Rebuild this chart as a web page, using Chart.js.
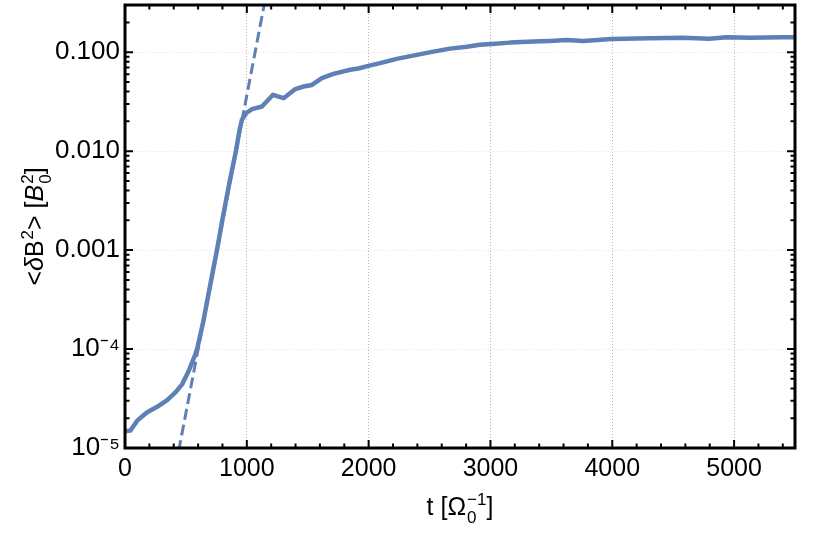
<!DOCTYPE html>
<html>
<head>
<meta charset="utf-8">
<style>
  html, body { margin: 0; padding: 0; background: #fff; }
  #wrap { width: 830px; height: 559px; }
</style>
<script src="https://cdn.jsdelivr.net/npm/chart.js@4/dist/chart.umd.min.js"></script>
</head>
<body>
<div id="wrap"><canvas id="chart" width="830" height="559"></canvas></div>
<script>
const FONT = "'Liberation Sans', Arial, sans-serif";
const BLUE = "#5e81b5";

// <dB^2> time series
const times = [0, 45, 100, 182, 264, 346, 414, 469, 523, 578, 592, 641, 693, 756, 805,
  857, 911, 941, 960, 996, 1043, 1124, 1215, 1302, 1398, 1466, 1534, 1616, 1711, 1848,
  1916, 1998, 2094, 2231, 2395, 2531, 2668, 2805, 2914, 3010, 3160, 3351, 3488, 3625,
  3760, 3993, 4307, 4580, 4799, 4936, 5127, 5400, 5500];
const energy = [1.48e-5, 1.5e-5, 1.89e-5, 2.3e-5, 2.61e-5, 3.05e-5, 3.65e-5, 4.4e-5,
  6.0e-5, 8.9e-5, 1.0e-4, 1.85e-4, 4.02e-4, 1.02e-3, 2.2e-3, 4.78e-3, 0.0101, 0.0165,
  0.0208, 0.0243, 0.0266, 0.0283, 0.0371, 0.0343, 0.0424, 0.045, 0.0467, 0.0547, 0.0604,
  0.0664, 0.0684, 0.0728, 0.0775, 0.0856, 0.094, 0.1014, 0.1087, 0.1138, 0.119, 0.121,
  0.125, 0.128, 0.130, 0.1328, 0.130, 0.136, 0.1385, 0.1403, 0.137, 0.1416, 0.140,
  0.1416, 0.1416];

// exponential growth fit (straight on the log axis)
const fitTimes = [440, 1150];
const fitEnergy = [9.3e-6, 0.336];

const xMajor = [0, 1000, 2000, 3000, 4000, 5000];
const yMajor = [1e-5, 1e-4, 1e-3, 1e-2, 1e-1];
const yLabels = ["10⁻⁵", "10⁻⁴", "0.001", "0.010", "0.100"];

const isMajorY = (v) => yMajor.some((m) => Math.abs(v - m) / m < 1e-6);

// text with stacked super/subscripts, centred on (x, y) baseline
function drawRich(ctx, runs, x, y, size, angle) {
  const small = Math.round(size * 0.68);
  const font = (s, it) => `${it ? "italic " : ""}${s}px ${FONT}`;
  let total = 0;
  const widths = runs.map((r) => {
    ctx.font = font(size, r.it);
    let w = r.t ? ctx.measureText(r.t).width : 0;
    ctx.font = font(small, false);
    const sw = Math.max(r.sup ? ctx.measureText(r.sup).width : 0,
                        r.sub ? ctx.measureText(r.sub).width : 0);
    total += w + sw + (sw ? 1 : 0);
    return [w, sw];
  });
  ctx.save();
  ctx.translate(x, y);
  ctx.rotate(angle);
  ctx.fillStyle = "#000";
  ctx.textBaseline = "alphabetic";
  ctx.textAlign = "left";
  let cx = -total / 2;
  runs.forEach((r, i) => {
    const [w, sw] = widths[i];
    if (r.t) {
      ctx.font = font(size, r.it);
      ctx.fillText(r.t, cx, 0);
    }
    cx += w;
    ctx.font = font(small, false);
    if (r.sup) ctx.fillText(r.sup, cx + 1, -size * 0.42);
    if (r.sub) ctx.fillText(r.sub, cx + 1, size * 0.3);
    cx += sw + (sw ? 1 : 0);
  });
  ctx.restore();
}

const framePlugin = {
  id: "frame",
  afterDraw(chart) {
    const { ctx, chartArea: a, scales } = chart;
    ctx.save();
    ctx.strokeStyle = "#000";
    ctx.lineWidth = 2;
    ctx.beginPath();
    scales.x.ticks.forEach((t) => {
      const px = scales.x.getPixelForValue(t.value);
      const len = t.value % 1000 === 0 ? 8 : 4.5;
      ctx.moveTo(px, a.bottom); ctx.lineTo(px, a.bottom - len);
      ctx.moveTo(px, a.top); ctx.lineTo(px, a.top + len);
    });
    scales.y.ticks.forEach((t) => {
      const py = scales.y.getPixelForValue(t.value);
      const len = isMajorY(t.value) ? 8 : 4.5;
      ctx.moveTo(a.left, py); ctx.lineTo(a.left + len, py);
      ctx.moveTo(a.right, py); ctx.lineTo(a.right - len, py);
    });
    ctx.stroke();
    ctx.lineWidth = 3;
    ctx.strokeRect(a.left, a.top, a.right - a.left, a.bottom - a.top);
    ctx.restore();

    drawRich(ctx, [
      { t: "t [Ω", sub: "0", sup: "−1" },
      { t: "]" },
    ], (a.left + a.right) / 2, a.bottom + 67, 25, 0);

    drawRich(ctx, [
      { t: "<" },
      { t: "δ", it: true },
      { t: "B", sup: "2" },
      { t: "> [" },
      { t: "B", it: true, sub: "0", sup: "2" },
      { t: "]" },
    ], 43, (a.top + a.bottom) / 2, 25, -Math.PI / 2);
  },
};

new Chart(document.getElementById("chart"), {
  type: "line",
  data: {
    datasets: [
      {
        label: "fit",
        data: fitTimes.map((t, i) => ({ x: t, y: fitEnergy[i] })),
        borderColor: BLUE,
        borderWidth: 3,
        borderDash: [11, 5],
        pointRadius: 0,
        tension: 0,
      },
      {
        label: "<dB2>",
        data: times.map((t, i) => ({ x: t, y: energy[i] })),
        borderColor: BLUE,
        borderWidth: 4.5,
        borderJoinStyle: "round",
        pointRadius: 0,
        tension: 0,
      },
    ],
  },
  options: {
    responsive: false,
    animation: false,
    devicePixelRatio: 1,
    layout: { padding: { left: 0, right: 35, top: 5, bottom: 0 } },
    plugins: { legend: { display: false }, tooltip: { enabled: false } },
    scales: {
      x: {
        type: "linear",
        min: 0,
        max: 5500,
        afterBuildTicks(scale) {
          const ticks = [];
          for (let v = 0; v <= 5400; v += 200) ticks.push({ value: v });
          scale.ticks = ticks;
        },
        afterFit(scale) {
          scale.height = 111;
          scale.paddingLeft = 0;
          scale.paddingRight = 0;
        },
        ticks: {
          autoSkip: false,
          maxRotation: 0,
          padding: 6,
          color: "#000",
          font: { family: FONT, size: 25 },
          callback: (v) => (xMajor.includes(v) ? String(v) : ""),
        },
        grid: {
          drawTicks: false,
          lineWidth: 1,
          color: (c) => (c.tick && c.tick.value % 1000 === 0 && c.tick.value > 0
            ? "#b4b4b4" : "rgba(0,0,0,0)"),
        },
        border: { display: false, dash: [1, 2] },
      },
      y: {
        type: "logarithmic",
        min: 1e-5,
        max: 0.3,
        afterBuildTicks(scale) {
          const ticks = [];
          for (let d = -5; d <= -1; d++) {
            for (let k = 1; k <= 9; k++) {
              const v = k * Math.pow(10, d);
              if (v <= 0.3 + 1e-9) ticks.push({ value: v });
            }
          }
          scale.ticks = ticks;
        },
        afterFit(scale) {
          scale.width = 125;
          scale.paddingTop = 0;
          scale.paddingBottom = 0;
        },
        ticks: {
          autoSkip: false,
          padding: 5,
          color: "#000",
          font: { family: FONT, size: 26 },
          callback: (v) => {
            const i = yMajor.findIndex((m) => Math.abs(v - m) / m < 1e-6);
            return i >= 0 ? yLabels[i] : "";
          },
        },
        grid: {
          drawTicks: false,
          lineWidth: 1,
          color: (c) => (c.tick && isMajorY(c.tick.value) && c.tick.value > 2e-5
            ? "#e2e2e2" : "rgba(0,0,0,0)"),
        },
        border: { display: false, dash: [1, 2] },
      },
    },
  },
  plugins: [framePlugin],
});
</script>
</body>
</html>
